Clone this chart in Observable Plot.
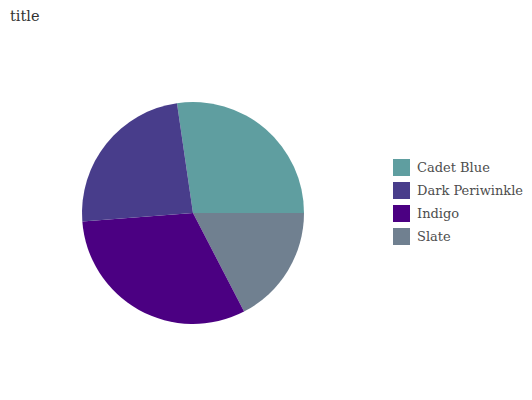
<!DOCTYPE html>
<html>
<head>
<meta charset="utf-8">
<script src="https://cdn.jsdelivr.net/npm/d3@7"></script>
<script src="https://cdn.jsdelivr.net/npm/@observablehq/plot@0.6"></script>
<style>
  html, body { margin: 0; padding: 0; background: #fff; }
  #wrap { position: relative; width: 532px; height: 400px; overflow: hidden; font-family: "DejaVu Serif", serif; color: #4d4d4d; }
  #title { position: absolute; left: 10px; top: 6px; font-size: 14.5px; line-height: 20px; color: #333; }
  #chart { position: absolute; left: 0; top: 0; }
  #legend { position: absolute; left: 393px; top: 156px; }
  .item { display: flex; align-items: center; height: 23px; }
  .sw { width: 17px; height: 17px; margin-right: 7px; }
  .lab { font-size: 13px; white-space: nowrap; }
</style>
</head>
<body>
<div id="wrap">
  <div id="chart"></div>
  <div id="title">title</div>
  <div id="legend"></div>
</div>
<script>
const legendOrder = ["Cadet Blue", "Dark Periwinkle", "Indigo", "Slate"];
const colors = ["#5F9EA0", "#483D8B", "#4B0082", "#708090"];
// slices in clockwise drawing order
const sliceNames = ["Cadet Blue", "Slate", "Indigo", "Dark Periwinkle"];
const sliceValues = [27.3, 17.4, 31.4, 23.9];

const data = sliceNames.map((name, i) => ({name, value: sliceValues[i]}));
const color = Plot.scale({color: {type: "ordinal", domain: legendOrder, range: colors}});

const startDeg = -8.3;
const pie = d3.pie().sort(null).value(d => d.value)
  .startAngle(startDeg * Math.PI / 180)
  .endAngle(startDeg * Math.PI / 180 + 2 * Math.PI);
const arcs = pie(data);

const W = 532, H = 400, cx = 193, cy = 213, R = 111;

const chart = Plot.plot({
  width: W,
  height: H,
  margin: 0,
  x: {domain: [0, W], axis: null},
  y: {domain: [0, H], axis: null, reverse: true},
  marks: [
    (index, scales) => {
      const g = d3.create("svg:g");
      const arc = d3.arc().innerRadius(0).outerRadius(R);
      g.selectAll("path").data(arcs).join("path")
        .attr("transform", `translate(${scales.x(cx)},${scales.y(cy)})`)
        .attr("d", arc)
        .attr("fill", d => color.apply(d.data.name))
        .attr("stroke", "none");
      return g.node();
    }
  ]
});
document.getElementById("chart").appendChild(chart);

const legend = d3.select("#legend");
legendOrder.forEach(name => {
  const it = legend.append("div").attr("class", "item");
  it.append("div").attr("class", "sw").style("background", color.apply(name));
  it.append("div").attr("class", "lab").text(name);
});
</script>
</body>
</html>
